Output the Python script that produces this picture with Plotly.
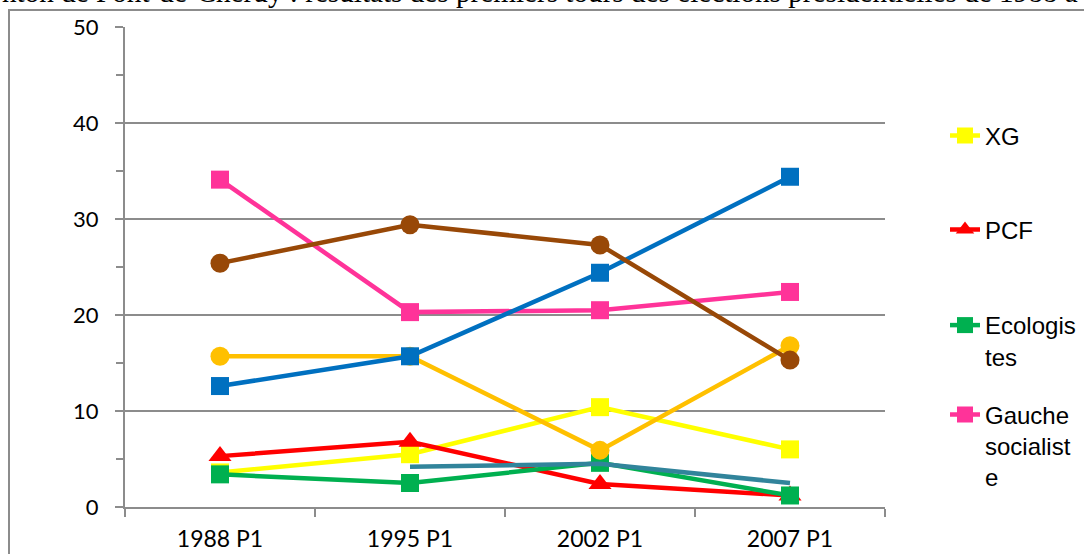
import plotly.graph_objects as go

# scrutins (premiers tours)
scrutins = ["1988 P1", "1995 P1", "2002 P1", "2007 P1"]

# scores en %
xg = [3.6, 5.5, 10.4, 6.0]
pcf = [5.3, 6.8, 2.4, 1.2]
ecologistes = [3.4, 2.5, 4.6, 1.2]
gauche_socialiste = [34.1, 20.3, 20.5, 22.4]
centre = [15.7, 15.7, 5.9, 16.8]
droite = [12.6, 15.7, 24.4, 34.4]
extreme_droite = [25.4, 29.4, 27.3, 15.3]
souverainistes = [None, 4.2, 4.5, 2.5]

GRID = "#8c8c8c"
W, H = 1084, 554
L, R, T, B = 125, 199, 27, 47
PW, PH = W - L - R, H - T - B

fig = go.Figure()

def add_serie(y, name, color, symbol, size, legend=None, markers=True):
    fig.add_trace(go.Scatter(
        x=scrutins, y=y, name=name,
        mode="lines+markers" if markers else "lines",
        line=dict(color=color, width=4.5),
        marker=dict(symbol=symbol, size=size, color=color),
        showlegend=legend is not None,
        legend=legend if legend else "legend",
        connectgaps=False,
    ))

add_serie(xg, "XG", "#FFFF00", "square", 18, "legend")
add_serie(pcf, "PCF", "#FF0000", "triangle-up", 20, "legend2")
add_serie(ecologistes, "Ecologis<br>tes", "#00B050", "square", 18, "legend3")
add_serie(gauche_socialiste, "Gauche<br>socialist<br>e", "#FF3399", "square", 18, "legend4")
add_serie(centre, "Centre", "#FFC000", "circle", 19)
add_serie(droite, "Droite", "#0070C0", "square", 18)
add_serie(extreme_droite, "Extrême droite", "#984807", "circle", 19)
add_serie(souverainistes, "Souverainistes", "#31849B", "circle", 1, markers=False)

# 4 légendes séparées pour garder un espacement régulier
leg_font = dict(family="Liberation Sans, Arial", size=24, color="black")
leg_y = [136, 230, 321, 414]
leg_common = dict(x=(945 - L) / PW, xanchor="left", yanchor="middle",
                  bgcolor="rgba(0,0,0,0)", font=leg_font, valign="top",
                  itemwidth=30, tracegroupgap=0)
fig.update_layout(
    legend=dict(y=1 - (leg_y[0] - T) / PH, **leg_common),
    legend2=dict(y=1 - (leg_y[1] - T) / PH, **leg_common),
    legend3=dict(y=1 - (leg_y[2] + 20 - T) / PH, **leg_common),
    legend4=dict(y=1 - (leg_y[3] + 32 - T) / PH, **leg_common),
)

fig.update_layout(
    width=W, height=H,
    margin=dict(l=L, r=R, t=T, b=B, autoexpand=False),
    paper_bgcolor="white",
    plot_bgcolor="white",
    font=dict(family="Lato, Open Sans, sans-serif", size=22, color="black"),
)

fig.update_xaxes(
    type="category",
    range=[-0.5, 3.5],
    automargin=False,
    tickson="boundaries",
    ticks="outside", ticklen=8, tickcolor=GRID, tickwidth=2,
    showline=True, linecolor=GRID, linewidth=2,
    showgrid=False,
    ticklabelstandoff=10,
    tickfont=dict(size=23),
)

fig.update_yaxes(
    range=[0, 50], dtick=10,
    automargin=False,
    ticks="outside", ticklen=8, tickcolor=GRID, tickwidth=2,
    minor=dict(dtick=5, ticks="outside", ticklen=7, tickcolor=GRID, tickwidth=2, showgrid=False),
    showline=True, linecolor=GRID, linewidth=2,
    showgrid=True, gridcolor=GRID, gridwidth=2,
    ticklabelstandoff=12,
    tickfont=dict(size=22),
    zeroline=False,
)

# cadre du graphique (coupé par le bord de l'image)
fig.add_shape(type="rect", xref="paper", yref="paper",
              x0=(9 - L) / PW, x1=1.5, y0=-0.5, y1=1 + (T - 10) / PH,
              line=dict(color=GRID, width=2), layer="below")

# titre tronqué en haut de l'image
fig.add_annotation(
    text="nton de Pont-de-Cheruy : résultats des premiers tours des élections présidentielles de 1988 à",
    xref="paper", yref="paper", x=(0 - L) / PW, y=1 + (T - 10) / PH,
    xanchor="left", yanchor="bottom", showarrow=False,
    font=dict(family="Liberation Serif, Times New Roman", size=29.2, color="black"),
)

# page sans marge pour que la figure commence en (0, 0)
fig.write_html("out.html", config={"displayModeBar": False},
               post_script="document.body.style.margin = '0px';")
